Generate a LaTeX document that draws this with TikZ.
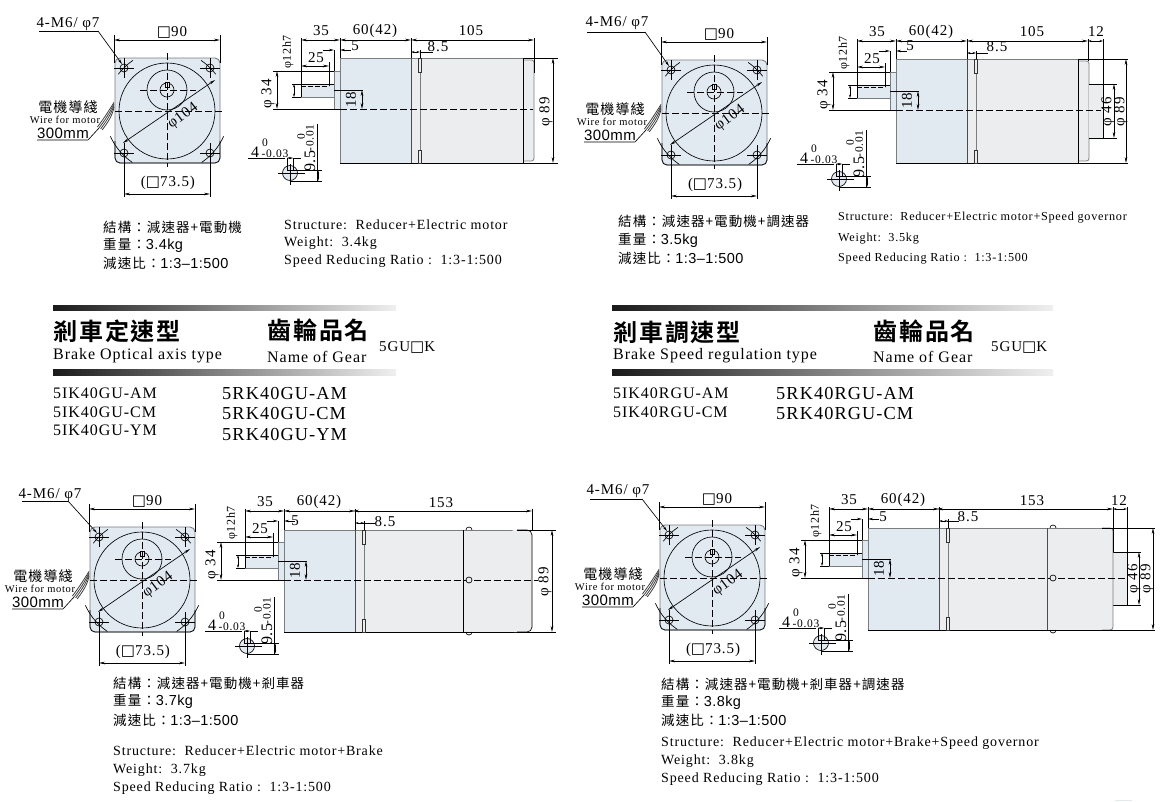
\documentclass[tikz,border=0pt]{standalone}
\usepackage{fontspec}
\usetikzlibrary{arrows.meta}
\setmainfont{Liberation Serif}
\newfontfamily\ser[LetterSpace=6]{Liberation Serif}
\newfontfamily\san[LetterSpace=3]{Liberation Sans}
\newfontfamily\cj[LetterSpace=8]{Noto Sans CJK TC}
\newfontfamily\cjh[LetterSpace=8]{Noto Sans CJK TC Bold}
\newfontfamily\boxf{DejaVu Sans}
\definecolor{bluefill}{RGB}{225,234,241}
\definecolor{greyfill}{RGB}{236,237,238}
\definecolor{edge}{RGB}{120,125,128}
\newcommand{\fs}[1]{\fontsize{#1}{#1}\selectfont}
\newcommand{\lab}{\ser\fs{15}}
\newcommand{\bx}{{\boxf □}}
\tikzset{
  ln/.style={line width=.65pt,black},
  dm/.style={line width=.65pt,black,{Stealth[length=6pt,width=2.6pt]}-{Stealth[length=6pt,width=2.6pt]}},
  dms/.style={line width=.5pt,black,{Stealth[length=3.5pt,width=2pt]}-{Stealth[length=3.5pt,width=2pt]}},
  tip/.style={line width=.65pt,black,-{Stealth[length=5pt,width=2.4pt]}},
  cl/.style={line width=.8pt,black,dash pattern=on 7pt off 3pt},
  wt/.style={inner sep=0pt,anchor=west},
  ct/.style={inner sep=0pt,anchor=center},
  vt/.style={inner sep=0pt,anchor=center,rotate=90},
  grad/.style={left color=black!90,right color=black!6,draw=none},
}
% front view: centre, leader text, leader start x, knee x, leader y
\newcommand{\frontview}[7]{%
\begin{scope}[shift={(#1,#2)}]
  \fill[bluefill,rounded corners=5pt] (-52,-53) rectangle (53,52);
  \draw[edge,line width=.9pt,rounded corners=5pt] (-52,-53) rectangle (53,52);
  \draw[ln,rounded corners=5pt] (-52,30) -- (-52,52) -- (53,52) -- (53,30);
  \draw[ln] (0,0) circle[radius=48];
  \draw[ln] (0,-21) circle[radius=20];
  \draw[ln] (0,-21) circle[radius=7];
  \draw[ln,fill=bluefill] (-2,-28.5) rectangle (2,-24);
  \draw[cl] (0,-58) -- (0,56);
  \draw[cl] (-52,0) -- (56,0);
  \draw[cl] (-27,-21) -- (29,-21);
  \foreach \hx/\hy in {-43/-43,43/-43,-43/42,43/42}{
    \draw[ln] (\hx,\hy) circle[radius=4];
    \draw[ln] (\hx-10,\hy) -- (\hx+10,\hy);
    \draw[ln] (\hx,\hy-10) -- (\hx,\hy+10);
  }
  \draw[ln] plot[smooth,domain=217:236,samples=6] (\x:61);
  \draw[ln] plot[smooth,domain=-37:-56,samples=6] (\x:61);
  \draw[ln] plot[smooth,domain=124:156,samples=8] (\x:62);
  \draw[ln] plot[smooth,domain=56:24,samples=8] (\x:62);
  \draw[dm] (-44,32) -- (48,-31);
  \node[vt,rotate=-53] at (16,5) {\lab φ104};
  % top dimension
  \draw[ln] (-53,-76) -- (-53,-48);
  \draw[ln] (53,-76) -- (53,-48);
  \draw[dm] (-53,-71) -- (53,-71);
  \node[ct] at (5,-79) {\lab \bx 90};
  % bottom dimension
  \draw[ln] (-43,42) -- (-43,86);
  \draw[ln] (43,42) -- (43,86);
  \draw[dm] (-43,83) -- (43,83);
  \node[ct] at (1,72) {\lab (\bx 73.5)};
  % leader
  \node[ct] at (#3,#4) {\lab 4-M6/ φ7};
  \draw[ln] (#5,#7) -- (#6,#7);
  \draw[tip] (#6,#7) -- (-45,-47);
  % wires
  \draw[ln] (-130,29) -- (-79,29) -- (-68,17);
  \foreach \w in {-1.6,0,1.6,3.2}{
    \draw[line width=.8pt,black!75] (-68+\w,17+\w*.6) .. controls (-62+\w,9+\w*.6) and (-58+\w,3+\w*.6) .. (-53,-7+\w);
  }
  \node[ct] at (-99,-4) {\cj\fs{14}電機導綫};
  \node[ct] at (-102,9) {\ser\fs{10.5}Wire for motor};
  \node[ct] at (-104,22) {\san\fs{15}300mm};
\end{scope}}
% keyway section, centred on the small circle
\newcommand{\keysec}[2]{%
\begin{scope}[shift={(#1,#2)}]
  \draw[ln,fill=bluefill] (0,0) circle[radius=7.5];
  \draw[ln] (-3,-15) -- (-3,-3) -- (3,-3) -- (3,-15);
  \draw[ln] (-12,0) -- (15,0);
  \draw[ln] (0,-9) -- (0,12);
  \draw[ln] (-42,-15) -- (-5,-15);
  \draw[dms] (-3,-15) -- (3,-15);
  \draw[ln] (3,-15) -- (11,-15);
  \node[ct] at (-35,-21) {\ser\fs{16}4};
  \node[ct] at (-15,-19) {\ser\fs{11.5}-0.03};
  \node[ct] at (-25,-30) {\ser\fs{11.5}0};
  \draw[ln] (27,-49) -- (27,8);
  \draw[ln] (0,-3) -- (32,-3);
  \draw[ln] (0,8) -- (32,8);
  \draw[dms] (28,-3) -- (28,8);
  \node[vt] at (20,-12) {\ser\fs{16}9.5};
  \node[vt] at (20,-35) {\ser\fs{11.5}-0.01};
  \node[vt] at (11,-36) {\ser\fs{11.5}0};
\end{scope}}
% side view: body left, centre line, top, bottom, key x, key y, end of section two
\newcommand{\sideview}[7]{%
\begin{scope}[shift={(#1,#2)}]
  \fill[greyfill] (71,#3) rectangle (#7,#4);
  \fill[bluefill] (0,#3) rectangle (71,#4);
  \draw[line width=.9pt,edge] (0,#3) -- (#7,#3);
  \draw[ln] (0,#4) -- (#7,#4);
  \draw[line width=.9pt,edge] (0,#3) -- (0,#4);
  \draw[line width=1pt,black!70] (71,#3) -- (71,#4);
  \draw[line width=.8pt,edge] (80,#3) -- (80,#4);
  \draw[line width=.6pt,black!80,fill=greyfill] (78.5,#3) rectangle (81,#3+14);
  \draw[line width=.6pt,black!80,fill=greyfill] (78.5,#4-13) rectangle (81,#4);
  % boss and shaft
  \draw[line width=.5pt,edge,fill=bluefill] (-6,-39) rectangle (0,-1);
  \fill[bluefill] (-39,-26) rectangle (-6,-13);
  \draw[line width=.5pt,edge] (-39,-13) -- (-6,-13);
  \draw[line width=.5pt,black] (-39,-26) -- (-6,-26);
  \draw[line width=.9pt,black] (-12,-1) -- (0,-1);
  \draw[line width=.6pt,black,dash pattern=on 5pt off 2pt] (-39,-24) -- (-11,-24);
  % phi 34
  \draw[ln] (-67,-39) -- (-6,-39);
  \draw[ln] (-67,-1) -- (-12,-1);
  \draw[dm] (-63,-39) -- (-63,-1);
  \node[vt] at (-72,-16) {\lab φ 34};
  % phi 12h7
  \draw[ln] (-48,-26) -- (-39,-26);
  \draw[ln] (-48,-13) -- (-39,-13);
  \draw[dms] (-46,-26) -- (-46,-13);
  \node[vt] at (-52,-58) {\ser\fs{12}φ12h7};
  % 35 and 60(42)
  \draw[ln] (-39,-72) -- (-39,-13);
  \draw[ln] (0,-72) -- (0,#3);
  \draw[ln] (71,-72) -- (71,#3);
  \draw[dm] (-39,-70) -- (0,-70);
  \draw[dm] (0,-70) -- (71,-70);
  \node[ct] at (-19,-79) {\lab 35};
  \node[ct] at (35,-79) {\lab 60(42)};
  % 25
  \draw[ln] (-11,-48) -- (-11,-24);
  \draw[dm] (-39,-44) -- (-11,-44);
  \node[ct] at (-24,-52) {\lab 25};
  % 5
  \draw[ln] (-6,-60) -- (-6,-39);
  \draw[tip] (-17,-60) -- (-6,-60);
  \draw[tip] (11,-60) -- (0,-60);
  % 18
  \draw[ln] (-6,-20) -- (23,-20);
  \draw[dm] (22,-20) -- (22,-1);
  \node[vt] at (11,-10) {\lab 18};
  % 8.5
  \draw[ln] (80,-60) -- (80,#3);
  \draw[dms] (71,-58) -- (80,-58);
\end{scope}
\keysec{#5}{#6}}
\newcommand{\cnblock}[6]{%
  \node[wt] at (#1,#2) {\cj\fs{13.5}結構：#5};
  \node[wt] at (#1,#3) {\cj\fs{13.5}重量：{\san\fs{14.5}#6}};
  \node[wt] at (#1,#4) {\cj\fs{13.5}減速比：{\san\fs{14.5}1:3–1:500}};}
\newcommand{\enblock}[7]{%
  \node[wt] at (#1,#2) {\ser\fs{#5}Structure:\ \ #6};
  \node[wt] at (#1,#3) {\ser\fs{#5}Weight:\ \ #7};
  \node[wt] at (#1,#4) {\ser\fs{#5}Speed Reducing Ratio\ :\ \ 1:3-1:500};}
\begin{document}
\begin{tikzpicture}[x=1pt,y=-1pt]
\useasboundingbox (0,0) rectangle (1176,801);
% ---------- views ----------
\frontview{167}{111}{-99}{-87}{-128}{-69}{-80}
\frontview{714}{113}{-97}{-90}{-127}{-69}{-81}
\frontview{142}{580}{-92}{-85}{-120}{-74}{-79}
\frontview{712}{578}{-94}{-87}{-122}{-70}{-79}

% panel 1
\sideview{340}{110}{-52}{53}{290}{173}{183}
\begin{scope}[shift={(340,110)}]
  \fill[greyfill,rounded corners=2.5pt] (183,-50) rectangle (194,51);
  \draw[line width=.8pt,edge,rounded corners=2.5pt] (183,-50) -- (194,-50) -- (194,51) -- (183,51);
  \draw[ln] (183,-52) -- (183,53);
  \draw[cl] (0,-1) -- (193,-1);
  \draw[ln] (194,-72) -- (194,-37);
  \draw[dm] (71,-70) -- (194,-70);
  \node[ct] at (131,-79) {\lab 105};
  \node[ct] at (15,-64) {\lab 5};
  \draw[ln] (80,-58) -- (93,-58);
  \node[ct] at (98,-63) {\lab 8.5};
  \draw[ln] (183,-52) -- (218,-52);
  \draw[ln] (183,53) -- (218,53);
  \draw[dm] (213,-52) -- (213,53);
  \node[vt] at (206,2) {\lab φ 89};
\end{scope}

% panel 2
\sideview{896}{111}{-52}{52}{839}{179}{182}
\begin{scope}[shift={(896,111)}]
  \fill[greyfill,rounded corners=2.5pt] (182,-50) rectangle (193,50);
  \draw[line width=.8pt,edge,rounded corners=2.5pt] (182,-50) -- (193,-50) -- (193,50) -- (182,50);
  \fill[greyfill] (193,-27) rectangle (207,27);
  \draw[ln] (193,-27) -- (221,-27);
  \draw[ln] (193,27) -- (221,27);
  \draw[ln] (207,-27) -- (207,27);
  \draw[ln] (182,-52) -- (182,52);
  \draw[cl] (0,-1) -- (205,-1);
  \draw[ln] (192,-72) -- (192,-50);
  \draw[ln] (207,-72) -- (207,-27);
  \draw[dm] (71,-70) -- (192,-70);
  \draw[dms] (192,-70) -- (207,-70);
  \node[ct] at (136,-79) {\lab 105};
  \node[ct] at (200,-79) {\lab 12};
  \node[ct] at (14,-65) {\lab 5};
  \draw[ln] (80,-58) -- (92,-58);
  \node[ct] at (101,-64) {\lab 8.5};
  \draw[ln] (182,-52) -- (232,-52);
  \draw[ln] (182,52) -- (232,52);
  \draw[dm] (218,-27) -- (218,27);
  \draw[dm] (230,-52) -- (230,52);
  \node[vt] at (212,1) {\lab φ 46};
  \node[vt] at (225,1) {\lab φ 89};
\end{scope}

% panel 3
\sideview{284}{581}{-51}{51}{247}{646}{248}
\begin{scope}[shift={(284,581)}]
  \fill[white] (240,-52) rectangle (249,-47);
  \fill[white] (240,47) rectangle (249,52);
  \fill[greyfill,rounded corners=5pt] (225,-51) rectangle (248,51);
  \draw[ln,rounded corners=5pt] (233,-51) -- (248,-51) -- (248,51) -- (233,51);
  \draw[ln] (185,-51) ++(-3,0) arc[start angle=180,end angle=360,radius=3];
  \draw[ln] (185,51) ++(-3,0) arc[start angle=180,end angle=0,radius=3];
  \draw[ln] (179,-51) -- (179,51);
  \draw[cl] (0,-1) -- (254,-1);
  \draw[ln,fill=greyfill] (185,-1) circle[radius=3];
  \draw[ln] (248,-72) -- (248,-51);
  \draw[dm] (69,-70) -- (248,-70);
  \node[ct] at (157,-78) {\lab 153};
  \node[ct] at (11,-60) {\lab 5};
  \draw[ln] (78,-58) -- (91,-58);
  \node[ct] at (101,-59) {\lab 8.5};
  \draw[ln] (233,-51) -- (272,-51);
  \draw[ln] (233,51) -- (272,51);
  \draw[dm] (268,-51) -- (268,51);
  \node[vt] at (261,1) {\lab φ 89};
\end{scope}

% panel 4
\sideview{868}{579}{-51}{51}{821}{643}{245}
\begin{scope}[shift={(868,579)}]
  \fill[greyfill] (245,-27) rectangle (259,26);
  \draw[ln] (245,-27) -- (273,-27);
  \draw[ln] (245,26) -- (273,26);
  \draw[ln] (259,-27) -- (259,26);
  \draw[line width=.8pt,edge,rounded corners=3pt] (234,-51) -- (245,-51) -- (245,51) -- (234,51);
  \draw[ln] (185,-51) ++(-3,0) arc[start angle=180,end angle=360,radius=3];
  \draw[ln] (185,51) ++(-3,0) arc[start angle=180,end angle=0,radius=3];
  \draw[line width=1pt,black!70] (179,-51) -- (179,51);
  \draw[cl] (0,-1) -- (259,-1);
  \draw[ln,fill=greyfill] (185,-1) circle[radius=3];
  \draw[ln] (245,-72) -- (245,-27);
  \draw[ln] (259,-72) -- (259,-27);
  \draw[dm] (69,-70) -- (245,-70);
  \draw[dms] (245,-70) -- (259,-70);
  \node[ct] at (164,-78) {\lab 153};
  \node[ct] at (251,-78) {\lab 12};
  \node[ct] at (15,-62) {\lab 5};
  \draw[ln] (79,-58) -- (91,-58);
  \node[ct] at (100,-62) {\lab 8.5};
  \draw[ln] (234,-51) -- (287,-51);
  \draw[ln] (234,51) -- (287,51);
  \draw[dm] (271,-27) -- (271,26);
  \draw[dm] (285,-51) -- (285,51);
  \node[vt] at (266,0) {\lab φ 46};
  \node[vt] at (279,0) {\lab φ 89};
\end{scope}

% ---------- spec texts ----------
\cnblock{103}{227}{245}{263}{減速器+電動機}{3.4kg}
\enblock{284}{225}{243}{261}{14}{Reducer+Electric motor}{3.4kg}
\cnblock{618}{221}{240}{258}{減速器+電動機+調速器}{3.5kg}
\enblock{838}{218}{239}{259}{12.2}{Reducer+Electric motor+Speed governor}{3.5kg}
\cnblock{113}{683}{701}{720}{減速器+電動機+剎車器}{3.7kg}
\enblock{113}{751}{770}{788}{14}{Reducer+Electric motor+Brake}{3.7kg}
\cnblock{661}{684}{702}{720}{減速器+電動機+剎車器+調速器}{3.8kg}
\enblock{661}{743}{761}{779}{14}{Reducer+Electric motor+Brake+Speed governor}{3.8kg}

% ---------- headings ----------
\shade[grad] (53,305) rectangle (396,310);
\shade[grad] (53,369) rectangle (396,375);
\shade[grad] (612,305) rectangle (1053,310);
\shade[grad] (612,369) rectangle (1053,375);
\node[wt] at (53,331) {\cjh\fs{24}剎車定速型};
\node[wt] at (53,356) {\ser\fs{16}Brake Optical axis type};
\node[wt] at (267,330) {\cjh\fs{24}齒輪品名};
\node[wt] at (267,357) {\ser\fs{16}Name of Gear};
\node[wt] at (379,347) {\ser\fs{15}5GU\bx K};
\node[wt] at (53,393) {\ser\fs{16}5IK40GU-AM};
\node[wt] at (53,412) {\ser\fs{16}5IK40GU-CM};
\node[wt] at (53,430) {\ser\fs{16}5IK40GU-YM};
\node[wt] at (222,393) {\ser\fs{18.3}5RK40GU-AM};
\node[wt] at (222,413) {\ser\fs{18.3}5RK40GU-CM};
\node[wt] at (222,434) {\ser\fs{18.3}5RK40GU-YM};
\node[wt] at (613,332) {\cjh\fs{24}剎車調速型};
\node[wt] at (613,356) {\ser\fs{16}Brake Speed regulation type};
\node[wt] at (873,331) {\cjh\fs{24}齒輪品名};
\node[wt] at (873,357) {\ser\fs{16}Name of Gear};
\node[wt] at (991,347) {\ser\fs{15}5GU\bx K};
\node[wt] at (613,393) {\ser\fs{16}5IK40RGU-AM};
\node[wt] at (613,412) {\ser\fs{16}5IK40RGU-CM};
\node[wt] at (776,393) {\ser\fs{18.3}5RK40RGU-AM};
\node[wt] at (776,413) {\ser\fs{18.3}5RK40RGU-CM};
\fill[bluefill] (1115,799.5) rectangle (1132,801);
\end{tikzpicture}
\end{document}
